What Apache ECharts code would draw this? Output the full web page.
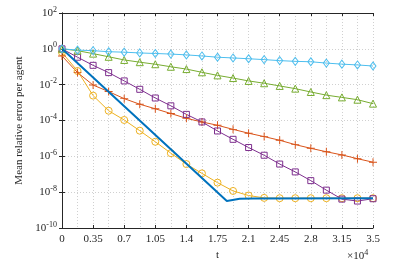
<!DOCTYPE html>
<html><head><meta charset="utf-8">
<script src="https://cdn.jsdelivr.net/npm/echarts@6/dist/echarts.min.js"></script>
<style>html,body{margin:0;padding:0;background:#fff}#c{width:415px;height:269px}</style>
</head><body><div id="c"></div>
<script>
const tMarks = [0,1750,3500,5250,7000,8750,10500,12250,14000,15750,17500,19250,21000,22750,24500,26250,28000,29750,31500,33250,35000];
const xTickLabels = ['0','0.35','0.7','1.05','1.4','1.75','2.1','2.45','2.8','3.15','3.5'];
const cyanVals = [1,0.85,0.79,0.69,0.65,0.59,0.55,0.51,0.46,0.40,0.34,0.31,0.28,0.25,0.22,0.20,0.19,0.16,0.14,0.126,0.11];
const greenVals = [1,0.79,0.54,0.36,0.24,0.18,0.138,0.10,0.074,0.049,0.033,0.0234,0.0162,0.012,0.0085,0.006,0.0039,0.0026,0.00195,0.00145,0.00087];
const purpleVals = [1,0.34,0.12,0.047,0.0162,0.0055,1.8e-3,6.6e-4,2.2e-4,8.3e-5,2.6e-5,8.9e-6,3.1e-6,1.15e-6,3.7e-7,1.35e-7,4.4e-8,1.3e-8,4.1e-9,3.2e-9,4.3e-9];
const redVals = [0.4,0.047,9.5e-3,4.1e-3,1.66e-3,8.1e-4,4.5e-4,2.45e-4,1.32e-4,8.3e-5,5.4e-5,3.2e-5,1.95e-5,1.26e-5,7.9e-6,4.5e-6,2.8e-6,1.8e-6,1.2e-6,7.4e-7,4.7e-7];
const orangeVals = [0.63,0.058,2.45e-3,3.5e-4,1.07e-4,2.7e-5,6.5e-6,1.5e-6,3.7e-7,1.12e-7,3.4e-8,1.17e-8,6.5e-9,4.8e-9,4.6e-9,4.6e-9,4.6e-9,4.6e-9,4.6e-9,4.6e-9,4.6e-9];
const blueT = [0,18550,20000,21500,35000];
const blueVals = [1,3.2e-9,4.3e-9,4.5e-9,4.6e-9];

const FONT = "'Liberation Serif', 'Times New Roman', serif";
const TXT = '#262626';
const pair = (ts, vs) => ts.map((t, i) => [t, vs[i]]);
const plusPath = 'path://M4.4,0H5.6V4.4H10V5.6H5.6V10H4.4V5.6H0V4.4H4.4Z';

function markSeries(name, color, vals, symbol, size) {
  const isPlus = symbol === plusPath;
  return {
    name, type: 'line', data: pair(tMarks, vals), symbol, symbolSize: size,
    showSymbol: true, animation: false, z: 3,
    lineStyle: { color, width: 1 },
    itemStyle: { color: isPlus ? color : 'rgba(255,255,255,0)', borderColor: color, borderWidth: isPlus ? 0 : 1 },
    emphasis: { disabled: true }
  };
}

const chart = echarts.init(document.getElementById('c'), null, { renderer: 'canvas' });
const yLabelFmt = v => {
  const e = Math.round(Math.log10(v));
  return '{b|10}{s|' + e + '}';
};
chart.setOption({
  animation: false,
  grid: { left: 62, right: 42, top: 13, bottom: 41, show: false },
  xAxis: [{
    type: 'value', min: 0, max: 35000, interval: 3500,
    name: 't', nameLocation: 'middle', nameGap: 20,
    nameTextStyle: { fontFamily: FONT, fontSize: 11, color: TXT },
    axisLine: { show: true, lineStyle: { color: TXT, width: 1 } },
    axisTick: { show: true, inside: true, length: 3, lineStyle: { color: TXT } },
    axisLabel: { fontFamily: FONT, fontSize: 11, color: TXT, margin: 6,
      formatter: v => xTickLabels[Math.round(v / 3500)] },
    splitLine: { show: true, lineStyle: { color: '#d0d0d0', type: [1, 2], width: 1 } },
    minorTick: { show: false, splitNumber: 2 },
    minorSplitLine: { show: true, lineStyle: { color: '#d0d0d0', type: [1, 2], width: 1 } }
  }, {
    type: 'value', min: 0, max: 35000, interval: 3500, position: 'top',
    axisLine: { show: true, onZero: false, lineStyle: { color: TXT, width: 1 } },
    axisTick: { show: true, inside: true, length: 3, lineStyle: { color: TXT } },
    axisLabel: { show: false }, splitLine: { show: false }
  }],
  yAxis: [{
    type: 'log', logBase: 10, min: 1e-10, max: 1e2, interval: 2,
    name: 'Mean relative error per agent', nameLocation: 'middle', nameGap: 26,
    nameTextStyle: { fontFamily: FONT, fontSize: 11, color: TXT },
    axisLine: { show: true, lineStyle: { color: TXT, width: 1 } },
    axisTick: { show: true, inside: true, length: 3, lineStyle: { color: TXT } },
    axisLabel: { formatter: yLabelFmt, margin: 5,
      rich: {
        b: { fontFamily: FONT, fontSize: 11, color: TXT },
        s: { fontFamily: FONT, fontSize: 8, color: TXT, padding: [0, 0, 7, 0] }
      } },
    splitLine: { show: true, lineStyle: { color: '#d0d0d0', type: [1, 2], width: 1 } },
    minorTick: { show: false }
  }, {
    type: 'log', logBase: 10, min: 1e-10, max: 1e2, interval: 2, position: 'right',
    axisLine: { show: true, lineStyle: { color: TXT, width: 1 } },
    axisTick: { show: true, inside: true, length: 3, lineStyle: { color: TXT } },
    axisLabel: { show: false }, splitLine: { show: false }
  }],
  graphic: [{
    type: 'text', left: 347, top: 249,
    style: { rich: { b: { fontFamily: FONT, fontSize: 11, fill: TXT }, s: { fontFamily: FONT, fontSize: 8, fill: TXT, padding: [0, 0, 7, 0] } },
      text: '{b|×10}{s|4}' }
  }],
  series: [
    markSeries('orange', '#EDB120', orangeVals, 'circle', 7),
    markSeries('red', '#D95319', redVals, plusPath, 8),
    markSeries('purple', '#7E2F8E', purpleVals, 'rect', 6),
    markSeries('green', '#77AC30', greenVals, 'triangle', 7),
    markSeries('cyan', '#4DBEEE', cyanVals, 'diamond', [6, 8]),
    { name: 'blue', type: 'line', data: pair(blueT, blueVals), symbol: 'none', z: 4,
      lineStyle: { color: '#0072BD', width: 2 }, emphasis: { disabled: true } }
  ]
});
</script></body></html>
